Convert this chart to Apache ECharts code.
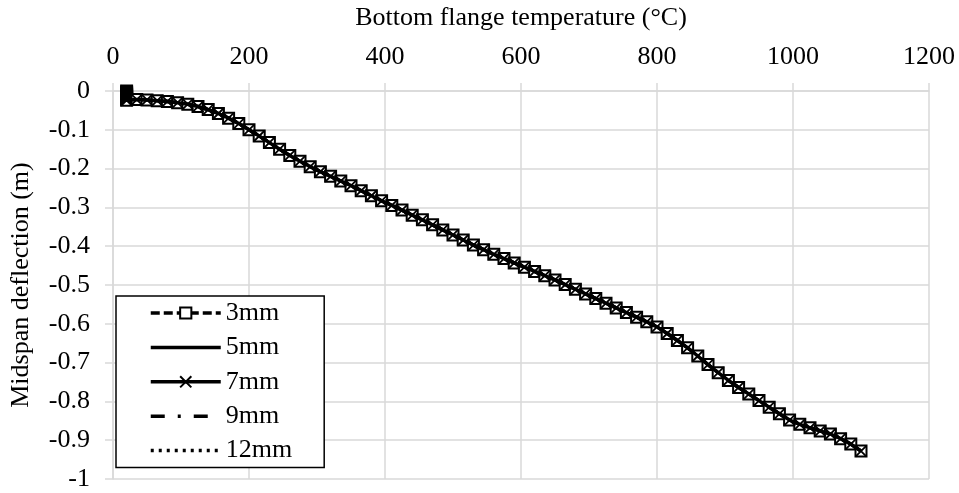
<!DOCTYPE html>
<html>
<head>
<meta charset="utf-8">
<script src="https://cdn.jsdelivr.net/npm/echarts@6/dist/echarts.min.js"></script>
<style>
html,body{margin:0;padding:0;background:#fff;}
#chart{width:959px;height:493px;}
</style>
</head>
<body>
<div id="chart"></div>
<script>
// Bottom flange temperature (°C) — all five curves overlap in the picture
var temperature = [20,20,20,20,20,20,20,20,20,35,50,65,80,95,110,125,140,155,170,185,200,215,230,245,260,275,290,305,320,335,350,365,380,395,410,425,440,455,470,485,500,515,530,545,560,575,590,605,620,635,650,665,680,695,710,725,740,755,770,785,800,815,830,845,860,875,890,905,920,935,950,965,980,995,1010,1025,1040,1055,1070,1085,1100];
// Midspan deflection (m)
var deflection = [0,-0.003,-0.006,-0.009,-0.012,-0.015,-0.018,-0.021,-0.024,-0.022,-0.023,-0.025,-0.027,-0.030,-0.034,-0.040,-0.048,-0.058,-0.070,-0.084,-0.100,-0.116,-0.133,-0.150,-0.166,-0.181,-0.195,-0.208,-0.220,-0.232,-0.244,-0.257,-0.270,-0.283,-0.295,-0.307,-0.320,-0.332,-0.345,-0.358,-0.371,-0.384,-0.397,-0.409,-0.421,-0.432,-0.443,-0.454,-0.465,-0.476,-0.487,-0.499,-0.511,-0.523,-0.535,-0.547,-0.559,-0.571,-0.583,-0.595,-0.608,-0.625,-0.643,-0.662,-0.683,-0.705,-0.726,-0.746,-0.764,-0.781,-0.798,-0.815,-0.832,-0.848,-0.859,-0.868,-0.876,-0.884,-0.896,-0.910,-0.928];
var seriesNames = ['3mm','5mm','7mm','9mm','12mm'];
var xTicks = [0,200,400,600,800,1000,1200];
var yTicks = [0,-0.1,-0.2,-0.3,-0.4,-0.5,-0.6,-0.7,-0.8,-0.9,-1];

var FONT = 'Liberation Serif';
var pts = temperature.map(function(t,i){return [t, deflection[i]];});

var styles = [
  {line:{color:'#000',width:3.5,type:[9,4]}, symbol:'rect', size:11, z:1, item:{color:'#fff',borderColor:'#000',borderWidth:2}},
  {line:{color:'#000',width:3.5,type:'solid'}, symbol:'none', z:2},
  {line:{color:'#000',width:3.5,type:'solid'}, symbol:'path://M0,0L10,10M0,10L10,0', size:11, z:1, item:{color:'rgba(0,0,0,0)',borderColor:'#000',borderWidth:1.8}},
  {line:{color:'#000',width:3.5,type:[14,13,3,13]}, symbol:'none', z:2},
  {line:{color:'#000',width:3.5,type:[3,5]}, symbol:'none', z:2}
];

var series = seriesNames.map(function(n,i){
  var s = styles[i];
  var o = {
    name:n, type:'line', data:pts, lineStyle:s.line, color:'#000', z:s.z,
    symbol:s.symbol, showSymbol: s.symbol !== 'none', animation:false,
    emphasis:{disabled:true}
  };
  if (s.symbol !== 'none') { o.symbolSize = s.size; o.itemStyle = s.item; }
  return o;
});

var legendData = seriesNames.map(function(n,i){
  var o = {name:n};
  if (styles[i].symbol === 'none') o.itemStyle = {opacity:0, color:'rgba(0,0,0,0)', borderWidth:0};
  return o;
});

var chart = echarts.init(document.getElementById('chart'));
chart.setOption({
  animation:false,
  backgroundColor:'#fff',
  grid:{left:109, right:30, top:90, bottom:14},
  legend:{
    orient:'vertical', left:116, top:296,
    backgroundColor:'#fff', borderColor:'#000', borderWidth:1.5,
    padding:[4,32,4,33], itemWidth:70, itemHeight:14, itemGap:8.4,
    lineStyle:{width:3.5},
    textStyle:{fontFamily:FONT, fontSize:26, color:'#000'},
    data:legendData
  },
  xAxis:{
    type:'value', position:'top', min:xTicks[0], max:xTicks[xTicks.length-1], interval:200,
    name:'Bottom flange temperature (°C)', nameLocation:'middle', nameGap:60,
    nameTextStyle:{fontFamily:FONT, fontSize:26, color:'#000'},
    axisLine:{show:true, lineStyle:{color:'#d9d9d9', width:1.5}},
    axisTick:{show:true, inside:false, length:8, lineStyle:{color:'#d9d9d9', width:1.5}},
    axisLabel:{fontFamily:FONT, fontSize:26, color:'#000', margin:21,
      formatter:function(v){return String(v);}},
    splitLine:{show:true, lineStyle:{color:'#d9d9d9', width:1.5}}
  },
  yAxis:{
    type:'value', min:yTicks[yTicks.length-1], max:yTicks[0], interval:0.1,
    name:'Midspan deflection (m)', nameLocation:'middle', nameGap:79,
    nameTextStyle:{fontFamily:FONT, fontSize:26, color:'#000'},
    axisLine:{show:true, lineStyle:{color:'#d9d9d9', width:1.5}},
    axisTick:{show:true, inside:false, length:8, lineStyle:{color:'#d9d9d9', width:1.5}},
    axisLabel:{fontFamily:FONT, fontSize:26, color:'#000', margin:23,
      formatter:function(v){return String(parseFloat(v.toFixed(1)));}},
    splitLine:{show:true, lineStyle:{color:'#d9d9d9', width:1.5}}
  },
  series:series
});
</script>
</body>
</html>
